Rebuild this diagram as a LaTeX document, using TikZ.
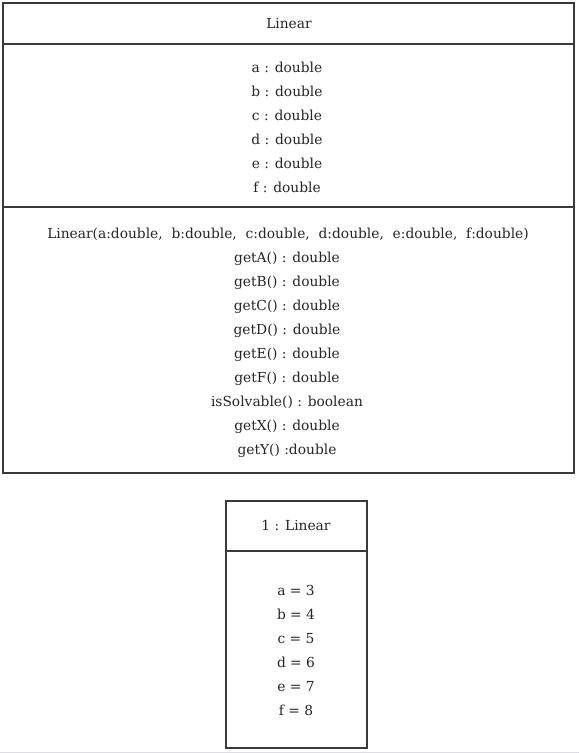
\documentclass[tikz,border=0pt]{standalone}
\usepackage{fontspec}
\setmainfont{DejaVu Serif}
\begin{document}
\begin{tikzpicture}[x=1pt,y=-1pt,
  box/.style={draw=umlline,line width=1.6pt},
  txt/.style={font=\fontsize{13.8}{15}\selectfont,text=black!85,inner sep=0pt,anchor=base}]
\definecolor{umlline}{HTML}{3A3A3A}
\useasboundingbox (0,0) rectangle (579,753);
\fill[white] (0,0) rectangle (579,753);
% class box
\draw[box] (3,3) rectangle (574,473);
\draw[box] (3,44) -- (574,44);
\draw[box] (3,207) -- (574,207);
\node[txt] (cname) at (289,28) {Linear};
\foreach \n [count=\i from 0] in {a,b,c,d,e,f}
  \node[txt] (attr\n) at (287,72+24*\i) {\n{} : double};
\node[txt] (ctor) at (288,238) {Linear(a:double,\ \ b:double,\ \ c:double,\ \ d:double,\ \ e:double,\ \ f:double)};
\foreach \m [count=\i from 1] in {getA() : double,getB() : double,getC() : double,getD() : double,getE() : double,getF() : double,isSolvable() : boolean,getX() : double,getY() :double}
  \node[txt] (meth\i) at (287,238+24*\i) {\m};
% object box
\draw[box] (226,501) rectangle (367,748);
\draw[box] (226,551) -- (367,551);
\node[txt] (oname) at (296,530) {1 : Linear};
\foreach \n/\v [count=\i from 0] in {a/3,b/4,c/5,d/6,e/7,f/8}
  \node[txt] (val\n) at (296,595+24*\i) {\n{} = \v};
\draw[line width=1pt,color=blue!10!gray!25] (0,752.5) -- (579,752.5);
\end{tikzpicture}
\end{document}
